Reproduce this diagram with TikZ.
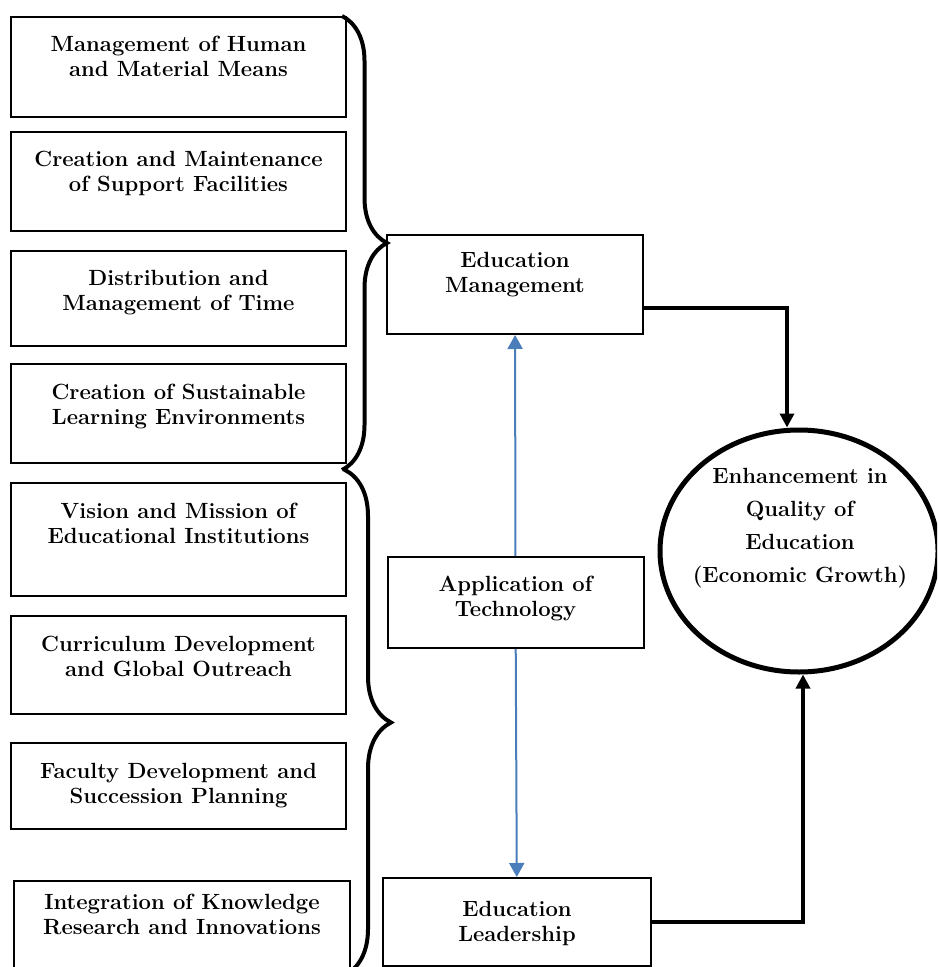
\documentclass[tikz,border=0pt]{standalone}
\usepackage{xcolor}
\usepackage{tikz}
\usetikzlibrary{shapes.geometric, arrows.meta, positioning, decorations.pathreplacing}
\definecolor{techblue}{RGB}{74,126,187}

\begin{document}
\begin{tikzpicture}[
    x=0.5pt, y=-0.5pt,
    factor/.style={draw, line width=1pt, minimum width=167.5pt, inner ysep=0pt, anchor=north, align=center, font=\fontsize{11}{12.5}\selectfont\bfseries, text height=30pt, text depth=#1},
    pillar/.style={factor=#1, minimum width=128pt},
    goal/.style={draw, ellipse, line width=2.5pt, minimum width=139pt, minimum height=121pt},
    link/.style={-{Triangle[length=7pt,width=7pt]}, line width=2pt},
    techlink/.style={-{Triangle[length=7pt,width=7.5pt]}, line width=1pt, techblue},
    bracket/.style={decorate, decoration={brace, amplitude=#1}, line width=2pt}
]
    \useasboundingbox (0,0) rectangle (937,967);
    \clip (0,0) rectangle (937,967);

    % Left column: management factors
    \node[factor=20pt] (human) at (178.5,16) {Management of Human\\and Material Means};
    \node[factor=19.5pt] (facilities) at (178.5,131) {Creation and Maintenance\\of Support Facilities};
    \node[factor=17.5pt] (time) at (178.5,250) {Distribution and\\Management of Time};
    \node[factor=19.5pt] (environment) at (178.5,363) {Creation of Sustainable\\Learning Environments};

    % Left column: leadership factors
    \node[factor=26.5pt] (vision) at (178.5,482) {Vision and Mission of\\Educational Institutions};
    \node[factor=19pt] (curriculum) at (178.5,615) {Curriculum Development\\and Global Outreach};
    \node[factor=13pt] (faculty) at (178.5,742) {Faculty Development and\\Succession Planning};
    \node[factor=21pt, text height=26.5pt, minimum width=168pt] (research) at (182,880) {Integration of Knowledge\\Research and Innovations};

    % Braces
    \coordinate (uppertop) at (342,16);
    \coordinate (upperbottom) at (342,470);
    \coordinate (lowertop) at (345,470);
    \coordinate (lowerbottom) at (345,975);
    \draw[bracket=22.5pt] (uppertop) -- (upperbottom);
    \draw[bracket=23pt] (lowertop) -- (lowerbottom);

    % Middle column
    \node[pillar=20.5pt, text height=29pt] (management) at (515,234) {Education\\Management};
    \node[pillar=16pt, text height=29.5pt] (technology) at (515.5,556) {Application of\\Technology};
    \node[pillar=12.5pt, text height=31.5pt, minimum width=134pt] (leadership) at (517,877) {Education\\Leadership};

    % Outcome
    \node[goal] (quality) at (799,551) {};
    \node[align=center, font=\fontsize{11}{16.5}\selectfont\bfseries] (qualitytext) at (800,528) {Enhancement in\\Quality of\\Education\\(Economic Growth)};

    % Connections
    \draw[techlink] (technology) -- (management);
    \draw[techlink] (technology) -- (leadership);
    \draw[link] ([yshift=-12pt]management.east) -| ([xshift=-6pt]quality.north);
    \draw[link] (leadership.east) -| ([xshift=2pt]quality.south);
\end{tikzpicture}
\end{document}
